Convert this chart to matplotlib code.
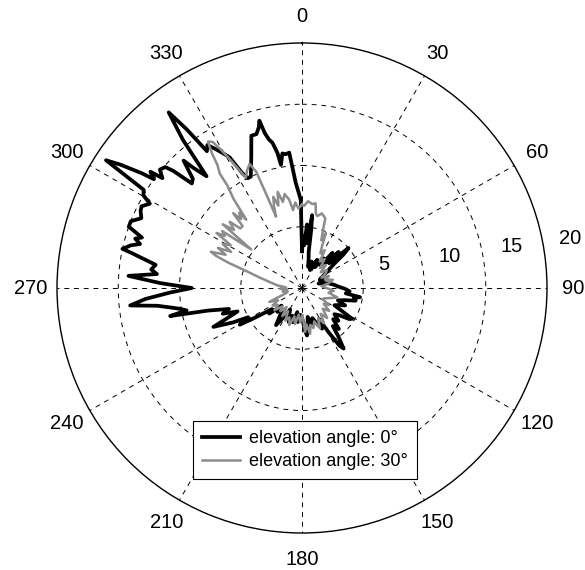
import numpy as np
import matplotlib
matplotlib.use("Agg")
import matplotlib.pyplot as plt

plt.rcParams["font.family"] = ["Liberation Sans", "DejaVu Sans"]

# angle ticks (deg, clockwise from north) and radial rings
ANGLE_TICKS = [0, 30, 60, 90, 120, 150, 180, 210, 240, 270, 300, 330]
RINGS = [5, 10, 15]
R_MAX = 20
RADIAL_LABELS = ["5", "10", "15", "20"]
SERIES_LABELS = ["elevation angle: 0°", "elevation angle: 30°"]

# elevation angle 0 deg (black)
BLACK_DEG = [0, 1.5, 3, 4.5, 6.6, 7.9, 9, 10.5, 13, 16, 20, 24, 28, 32, 36, 39, 41, 43,
             45.5, 47.5, 49.3, 51, 53, 56, 60, 65, 70, 75, 80, 84, 88, 91, 94, 97, 99,
             101, 103.3, 106, 109, 112, 115, 118, 121.6, 123.4, 126, 129, 132, 135,
             138, 141, 143, 145.5, 147, 149, 151.3, 153.7, 157, 161, 165, 169, 172,
             174, 176, 179, 183, 187, 191, 195, 199, 201, 205, 209, 212, 215, 218, 222,
             226, 229, 232, 235, 238, 239.5, 241.5, 243.5, 246.3, 248, 250, 252, 254,
             256.5, 258, 259, 260.3, 261.5, 263, 264.2, 266, 268, 270, 272, 274, 275.5,
             277, 279, 280.7, 281.5, 282.3, 284, 285.2, 286.5, 287.5, 289.5, 291.3,
             293.5, 295.5, 297, 299, 300.3, 301.8, 303.1, 304.2, 305.6, 306.3, 307.5,
             308.2, 309.8, 311.5, 312.3, 313.5, 315, 317.1, 317.9, 319.5, 321.2, 322.8,
             324, 325.2, 326.5, 328, 329.5, 331, 332.5, 333.7, 335.3, 338.9, 341.6,
             343.5, 345, 345.7, 346.5, 347.5, 348.5, 349.7, 350.3, 351.7, 353, 354.6,
             355.5, 356.6, 358, 359.2, 360]
BLACK_R = [3.0, 4.2, 3.5, 5.2, 3.7, 6.0, 4.8, 3.0, 2.4, 1.8, 2.3, 1.6, 2.6, 2.0, 3.0, 2.4,
           3.8, 2.8, 4.2, 3.0, 5.0, 4.4, 3.3, 2.6, 2.0, 1.6, 1.9, 1.4, 2.2, 2.6, 3.0, 3.5,
           3.9, 3.6, 4.8, 4.3, 4.5, 3.6, 3.1, 3.8, 3.3, 3.0, 4.8, 4.6, 3.8, 3.4, 4.0, 3.6,
           4.5, 4.0, 4.9, 6.0, 5.6, 4.2, 2.9, 3.7, 3.2, 2.6, 3.0, 2.4, 3.3, 3.9, 3.5, 2.6,
           2.2, 2.8, 2.0, 2.9, 2.4, 3.0, 2.5, 2.0, 2.8, 3.7, 3.0, 2.4, 2.8, 2.2, 3.4, 3.0,
           4.7, 5.9, 5.0, 6.3, 7.9, 6.6, 5.6, 6.8, 6.2, 7.9, 11.0, 9.6, 10.1, 10.8, 11.9,
           14.1, 12.8, 10.8, 9.0, 11.6, 14.2, 11.9, 12.4, 12.1, 13.4, 14.1, 15.0, 14.4,
           13.7, 14.2, 13.7, 15.0, 15.0, 14.3, 14.6, 14.7, 14.2, 15.0, 15.2, 19.1, 17.9,
           16.1, 15.0, 15.6, 14.5, 15.1, 14.9, 14.2, 12.4, 12.6, 14.2, 13.2, 12.0, 15.5,
           18.0, 16.0, 13.6, 14.0, 13.4, 12.8, 12.2, 10.6, 10.0, 10.0, 11.5, 13.1, 13.1,
           13.6, 14.1, 13.0, 12.4, 12.1, 11.2, 10.2, 11.1, 11.0, 11.1, 9.8, 8.6, 7.8,
           7.2, 3.0]

# elevation angle 30 deg (grey)
GREY_DEG = [0, 1.4, 4, 7, 9.1, 10.5, 12, 15, 18.5, 20, 22, 23.5, 25.6, 28, 31, 34, 38,
            42, 46, 50, 54, 58, 62, 66, 70, 75, 80, 85, 90, 95, 100, 105, 110, 115,
            118.5, 122, 126, 130, 135, 140, 144, 148, 152, 156, 160, 164, 167, 170, 173,
            176, 179, 183, 187, 191, 195, 199, 203, 207, 211, 215, 219, 223, 227, 231,
            235, 239, 243, 247, 249, 252, 256, 260, 264, 268, 272, 276, 280, 284, 287,
            289, 290.5, 291.7, 293.5, 295.5, 297, 299, 301, 302.8, 304, 305.5, 307.2,
            308.8, 310.5, 312.5, 314, 316.2, 317.4, 318.5, 320.2, 320.8, 322.5, 323.9,
            324.3, 325.5, 326.3, 327.3, 328.5, 329.5, 331, 333, 335, 337.1, 338.5, 339.2,
            340, 341, 342.5, 344, 345.8, 347.5, 349.5, 351.7, 353.5, 355.5, 357.5, 360]
GREY_R = [6.8, 6.7, 7.1, 6.9, 7.0, 6.2, 6.0, 6.3, 6.0, 5.0, 4.2, 4.9, 3.8, 3.2, 3.6, 2.6,
          3.0, 2.2, 2.7, 2.0, 2.5, 2.3, 1.8, 2.4, 2.0, 2.6, 2.2, 1.6, 2.0, 2.6, 2.2, 3.0,
          2.4, 2.0, 1.9, 2.6, 2.2, 2.9, 2.4, 3.2, 2.6, 3.4, 2.8, 3.6, 2.9, 3.4, 3.1, 3.8,
          3.0, 3.6, 2.2, 2.8, 2.2, 3.0, 2.4, 3.2, 2.6, 3.0, 2.2, 2.8, 2.0, 2.6, 2.2, 2.9,
          2.4, 2.8, 2.2, 2.9, 2.0, 1.4, 1.2, 1.6, 1.2, 1.8, 1.3, 2.0, 2.6, 3.6, 4.8, 6.4,
          7.5, 8.0, 6.8, 7.6, 6.5, 7.4, 6.8, 8.3, 7.6, 8.0, 5.2, 8.3, 7.3, 8.0, 7.0, 7.0,
          8.3, 7.5, 8.0, 7.2, 9.2, 10.3, 11.5, 12.2, 13.3, 14.2, 14.0, 13.2, 11.8, 10.1,
          10.6, 11.0, 10.2, 8.0, 6.2, 7.0, 7.8, 7.0, 8.1, 7.2, 7.8, 7.3, 6.4, 7.0, 6.5,
          6.8]

fig = plt.figure(figsize=(5.85, 5.70), dpi=100)
ax = fig.add_axes([57 / 585, 37 / 570, 490 / 585, 490 / 570], projection="polar")
ax.set_theta_zero_location("N")
ax.set_theta_direction(-1)
ax.set_ylim(0, R_MAX)

ax.set_xticks(np.deg2rad(ANGLE_TICKS))
ax.set_xticklabels([])
ax.set_yticks(RINGS)
ax.set_yticklabels([])
ax.grid(True, color="k", lw=0.7, ls=(0, (5, 5)))
ax.spines["polar"].set_linewidth(1.0)

for a in ANGLE_TICKS:
    ax.text(np.deg2rad(a), 22.15, str(a), ha="center", va="center", fontsize=14.5,
            clip_on=False)

# radial labels sit a little above the 90 spoke, like matlab's polar()
rlab_pos = [(74.2, 6.9), (78.1, 12.35), (78.9, 17.4), (79.5, 22.25)]
for txt, (th, r) in zip(RADIAL_LABELS, rlab_pos):
    ax.text(np.deg2rad(th), r, txt, ha="center", va="center", fontsize=14.5,
            clip_on=False)

ax.plot(np.deg2rad(BLACK_DEG), BLACK_R, color="k", lw=2.7, label=SERIES_LABELS[0])
ax.plot(np.deg2rad(GREY_DEG), GREY_R, color="#8c8c8c", lw=1.8, label=SERIES_LABELS[1])

leg = ax.legend(loc="upper left", bbox_to_anchor=(193 / 585, 1 - 421 / 570),
                bbox_transform=fig.transFigure, fontsize=13, fancybox=False,
                edgecolor="k", framealpha=1, borderpad=0.5, handlelength=2.1,
                handletextpad=0.5, labelspacing=0.35, borderaxespad=0)
leg.get_frame().set_linewidth(0.8)

fig.savefig("out.png", dpi=100)
